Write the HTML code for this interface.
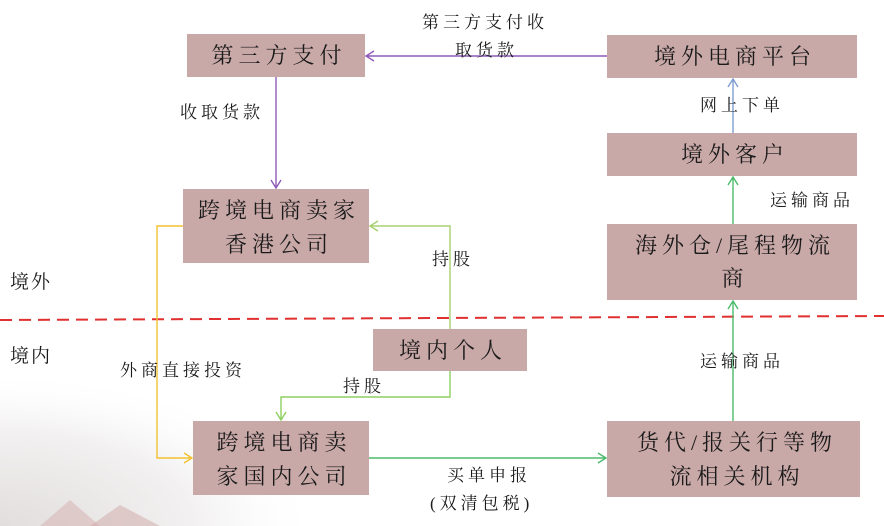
<!DOCTYPE html>
<html><head><meta charset="utf-8"><style>
html,body{margin:0;padding:0;background:#fff;}
svg{display:block;}
text{font-family:"Liberation Serif","Noto Serif CJK SC",serif;fill:#1a1a1a;}
.b{font-size:22px;letter-spacing:5px;text-anchor:middle;}
.l{font-size:17px;letter-spacing:4px;}
</style></head><body>
<svg width="884" height="526" viewBox="0 0 884 526" xmlns="http://www.w3.org/2000/svg">
<defs>
<radialGradient id="g" cx="0" cy="1" r="1"><stop offset="0" stop-color="#e2dede"/><stop offset="0.6" stop-color="#f2f0f0"/><stop offset="1" stop-color="#fff" stop-opacity="0"/></radialGradient>
</defs>
<rect x="0" y="370" width="320" height="156" fill="url(#g)"/>
<polygon points="40,526 70,500 100,526" fill="#d9b8b8" opacity="0.6"/>
<polygon points="90,526 120,505 160,526" fill="#d0a8a8" opacity="0.5"/>
<line x1="0" y1="320" x2="884" y2="316" stroke="#e03030" stroke-width="2" stroke-dasharray="12,7"/>
<g fill="#c9a9a8">
<rect x="187" y="34" width="178" height="43"/>
<rect x="607" y="35" width="250" height="43"/>
<rect x="607" y="133" width="250" height="43"/>
<rect x="607" y="224" width="250" height="76"/>
<rect x="183" y="189" width="186" height="74"/>
<rect x="373" y="329" width="154" height="42"/>
<rect x="193" y="421" width="176" height="74"/>
<rect x="607" y="421" width="253" height="76"/>
</g>
<g fill="none" stroke-width="1.4">
<path d="M607,56 H366 M374,51 L366,56 L374,61" stroke="#8e5cb8"/>
<path d="M276,77 V188 M271,180 L276,188 L281,180" stroke="#8e5cb8"/>
<path d="M733,133 V79 M728,87 L733,79 L738,87" stroke="#7f9fd0"/>
<path d="M733,224 V177 M728,185 L733,177 L738,185" stroke="#4cbb6c"/>
<path d="M733,421 V301 M728,309 L733,301 L738,309" stroke="#4cbb6c"/>
<path d="M450,329 V226 H370 M378,221 L370,226 L378,231" stroke="#a8d070"/>
<path d="M450,371 V397 H281 V420 M276,412 L281,420 L286,412" stroke="#8ed060"/>
<path d="M183,226 H157 V458 H192 M184,453 L192,458 L184,463" stroke="#f2c230"/>
<path d="M369,458 H606 M598,453 L606,458 L598,463" stroke="#4cbb6c"/>
</g>
<text class="b" x="279" y="63">第三方支付</text>
<text class="b" x="735" y="64">境外电商平台</text>
<text class="b" x="735" y="162">境外客户</text>
<text class="b" x="735" y="253">海外仓/尾程物流</text>
<text class="b" x="735" y="286">商</text>
<text class="b" x="279" y="218">跨境电商卖家</text>
<text class="b" x="279" y="252">香港公司</text>
<text class="b" x="453" y="358">境内个人</text>
<text class="b" x="284" y="450">跨境电商卖</text>
<text class="b" x="284" y="484">家国内公司</text>
<text class="b" x="737" y="450">货代/报关行等物</text>
<text class="b" x="737" y="484">流相关机构</text>
<text class="l" x="422" y="28">第三方支付收</text>
<text class="l" x="455" y="56">取货款</text>
<text class="l" x="180" y="118">收取货款</text>
<text class="l" x="700" y="111">网上下单</text>
<text class="l" x="770" y="206">运输商品</text>
<text class="l" x="432" y="265">持股</text>
<text class="l" x="343" y="392">持股</text>
<text class="l" x="700" y="367">运输商品</text>
<text class="l" x="120" y="376">外商直接投资</text>
<text class="l" x="447" y="481">买单申报</text>
<text class="l" x="430" y="509">(双清包税)</text>
<text class="l" x="10" y="288" style="font-size:19px;letter-spacing:2px">境外</text>
<text class="l" x="10" y="362" style="font-size:19px;letter-spacing:2px">境内</text>
</svg>
</body></html>
